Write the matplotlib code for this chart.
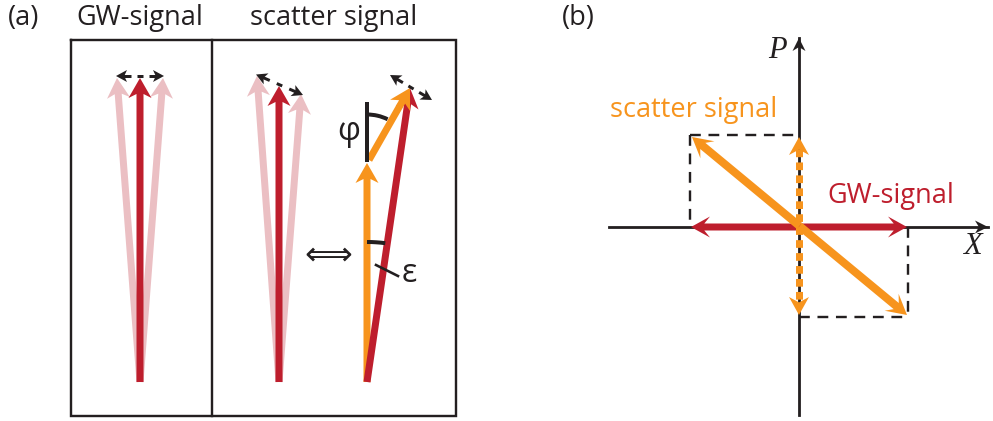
import numpy as np
import matplotlib
matplotlib.use("Agg")
import matplotlib.pyplot as plt
from matplotlib.patches import FancyArrow, Arc

# colours
RED = "#BE1E2D"
PINK = "#EBBFC3"
ORANGE = "#F7941D"
BLACK = "#231F20"

# everything below is in pixel coordinates of the 993x421 picture (y downwards)
# panel (a), frame
frame_x = [70.5, 211.5, 456]
frame_y = [40, 416]

# panel (a), GW-signal: common base and the three tips (pink, red, pink)
gw_base = (140, 382)
gw_tips_x = [117, 140, 163]
gw_tips_y = [78, 78, 78]
gw_swing = [(116, 76), (164, 76)]

# panel (a), scatter signal, left group
sc_base = (279, 382)
sc_tips_x = [257, 279, 301]
sc_tips_y = [76, 86, 94]
sc_swing = [(256, 74.5), (303, 95)]

# panel (a), decomposition: orange carrier + orange scatter -> red sum
dec_base = (367, 382)
dec_carrier_tip = (367, 163)
dec_scatter_start = (369, 160)
dec_sum_tip = (410, 88)
dec_swing = [(390, 75), (432, 100)]
phi_line = [(367, 101.5), (367, 161.5)]
phi_arc = (367, 161.5, 47, 270, 296)   # centre x, centre y, radius, angles
eps_arc = (367, 382, 140, 270, 277.5)
eps_leader = [(376, 265), (398, 276)]

# panel (b), phase space
origin = (799, 227)
x_axis = [609, 988]
p_axis = [415, 38]
gw_quad = [691, 907]            # x ends of the GW-signal arrow
sc_diag = [(692, 137), (907, 315)]
sc_p = [137, 315]               # y ends of the dotted P-projection
box_tl = (690, 135)
box_br = (908, 317)

fig = plt.figure(figsize=(9.93, 4.21), dpi=100)
ax = fig.add_axes([0, 0, 1, 1])
ax.set_xlim(0, 993)
ax.set_ylim(421, 0)
ax.axis("off")

PX = 0.72  # points per pixel


def arrow(p0, p1, color, w=7, hw=23, hl=20, over=0.2, z=3):
    ax.add_patch(FancyArrow(p0[0], p0[1], p1[0] - p0[0], p1[1] - p0[1],
                            width=w, head_width=hw, head_length=hl,
                            length_includes_head=True, overhang=over,
                            color=color, lw=0, zorder=z))


def head(tail, tip, color, hw, hl, over=0.2, z=4):
    d = np.array(tip, float) - np.array(tail, float)
    d = d / np.hypot(*d) * hl
    ax.add_patch(FancyArrow(tip[0] - d[0], tip[1] - d[1], d[0], d[1],
                            width=0.01, head_width=hw, head_length=hl,
                            length_includes_head=True, overhang=over,
                            color=color, lw=0, zorder=z))


def swing(p0, p1):
    # small dashed double arrow
    m = ((p0[0] + p1[0]) / 2, (p0[1] + p1[1]) / 2)
    d = np.array(p1, float) - np.array(p0, float)
    u = d / np.hypot(*d)
    ax.plot([m[0] - 3 * u[0], m[0] + 3 * u[0]], [m[1] - 3 * u[1], m[1] + 3 * u[1]],
            color=BLACK, lw=3 * PX, solid_capstyle="butt", zorder=5)
    for a, b in [(m, p0), (m, p1)]:
        q = (b[0] - (b[0] - a[0]) * 0.0, b[1])
        s = np.array(b, float) - 15 * (np.array(b, float) - np.array(a, float)) / np.hypot(*(np.array(b, float) - np.array(a, float)))
        e = np.array(b, float) - 7 * (np.array(b, float) - np.array(a, float)) / np.hypot(*(np.array(b, float) - np.array(a, float)))
        ax.plot([s[0], e[0]], [s[1], e[1]], color=BLACK, lw=3 * PX,
                solid_capstyle="butt", zorder=5)
        head(a, b, BLACK, 12, 11, over=0.25, z=6)


font = "Open Sans"
fs = 19.5

# ---- panel (a) ----
ax.plot([frame_x[0], frame_x[2], frame_x[2], frame_x[0], frame_x[0]],
        [frame_y[0], frame_y[0], frame_y[1], frame_y[1], frame_y[0]],
        color=BLACK, lw=2.4 * PX, solid_joinstyle="miter", zorder=2)
ax.plot([frame_x[1], frame_x[1]], frame_y, color=BLACK, lw=2.4 * PX, zorder=2)

ax.text(8, 25, "(a)", fontsize=fs, family=font, color=BLACK, va="baseline")
ax.text(140, 25, "GW-signal", fontsize=fs, family=font, color=BLACK,
        ha="center", va="baseline")
ax.text(334, 25, "scatter signal", fontsize=fs, family=font, color=BLACK,
        ha="center", va="baseline")

cols = [PINK, RED, PINK]
order = [0, 2, 1]
for i in order:
    arrow(gw_base, (gw_tips_x[i], gw_tips_y[i]), cols[i], z=3 + (i == 1))
    arrow(sc_base, (sc_tips_x[i], sc_tips_y[i]), cols[i], z=3 + (i == 1))
swing(*gw_swing)
swing(*sc_swing)

arrow(dec_base, dec_carrier_tip, ORANGE, z=3)
arrow(dec_base, dec_sum_tip, RED, z=4)
arrow(dec_scatter_start, dec_sum_tip, ORANGE, z=5)
swing(*dec_swing)

ax.plot([phi_line[0][0], phi_line[1][0]], [phi_line[0][1], phi_line[1][1]],
        color=BLACK, lw=4 * PX, zorder=6, solid_capstyle="butt")
for cx, cy, r, t1, t2 in [phi_arc, eps_arc]:
    ax.add_patch(Arc((cx, cy), 2 * r, 2 * r, theta1=t1, theta2=t2,
                     color=BLACK, lw=4 * PX, zorder=6))
ax.plot([eps_leader[0][0], eps_leader[1][0]], [eps_leader[0][1], eps_leader[1][1]],
        color=BLACK, lw=2.6 * PX, zorder=6)
ax.text(349, 131, "φ", fontsize=23, family=font, color=BLACK,
        ha="center", va="center")
ax.text(409, 273, "ε", fontsize=23, family=font, color=BLACK,
        ha="center", va="center")
ax.text(328, 255, "⟺", fontsize=24, family="DejaVu Sans", color=BLACK,
        ha="center", va="center")

# ---- panel (b) ----
ax.text(562, 25, "(b)", fontsize=fs, family=font, color=BLACK, va="baseline")
ax.plot(x_axis, [origin[1], origin[1]], color=BLACK, lw=2.8 * PX, zorder=2)
ax.plot([origin[0], origin[0]], p_axis, color=BLACK, lw=2.8 * PX, zorder=2)
head((x_axis[0], origin[1]), (x_axis[1], origin[1]), BLACK, 13, 13, over=0.3, z=2)
head((origin[0], p_axis[0]), (origin[0], p_axis[1]), BLACK, 13, 13, over=0.3, z=2)
ax.text(777, 50, "P", fontsize=22, family="Liberation Serif", style="italic",
        color=BLACK, ha="center", va="center")
ax.text(972, 247, "X", fontsize=22, family="Liberation Serif", style="italic",
        color=BLACK, ha="center", va="center")

dash = dict(color=BLACK, lw=2.4 * PX, dashes=(4.5, 3.2), zorder=2)
ax.plot([box_tl[0], origin[0]], [box_tl[1], box_tl[1]], **dash)
ax.plot([box_tl[0], box_tl[0]], [box_tl[1], origin[1]], **dash)
ax.plot([box_br[0], box_br[0]], [origin[1], box_br[1]], **dash)
ax.plot([origin[0], box_br[0]], [box_br[1], box_br[1]], **dash)

# GW-signal along X
arrow(origin, (gw_quad[0], origin[1]), RED, w=7, hw=21, hl=19, over=0.3, z=3)
arrow(origin, (gw_quad[1], origin[1]), RED, w=7, hw=21, hl=19, over=0.3, z=3)

# dotted projection on P
ax.plot([origin[0], origin[0]], [sc_p[0] + 12, sc_p[1] - 12], color=ORANGE,
        lw=7 * PX, dashes=(1.1, 0.75), zorder=4)
head((origin[0], origin[1]), (origin[0], sc_p[0]), ORANGE, 20, 18, over=0.3, z=4)
head((origin[0], origin[1]), (origin[0], sc_p[1]), ORANGE, 20, 18, over=0.3, z=4)

# scatter signal diagonal
mid = ((sc_diag[0][0] + sc_diag[1][0]) / 2, (sc_diag[0][1] + sc_diag[1][1]) / 2)
arrow(mid, sc_diag[0], ORANGE, w=8, hw=22, hl=20, over=0.3, z=5)
arrow(mid, sc_diag[1], ORANGE, w=8, hw=22, hl=20, over=0.3, z=5)

ax.text(610, 117, "scatter signal", fontsize=fs, family=font, color=ORANGE,
        va="baseline")
ax.text(827, 203, "GW-signal", fontsize=fs, family=font, color=RED,
        va="baseline")

fig.savefig("out.png", dpi=100)
